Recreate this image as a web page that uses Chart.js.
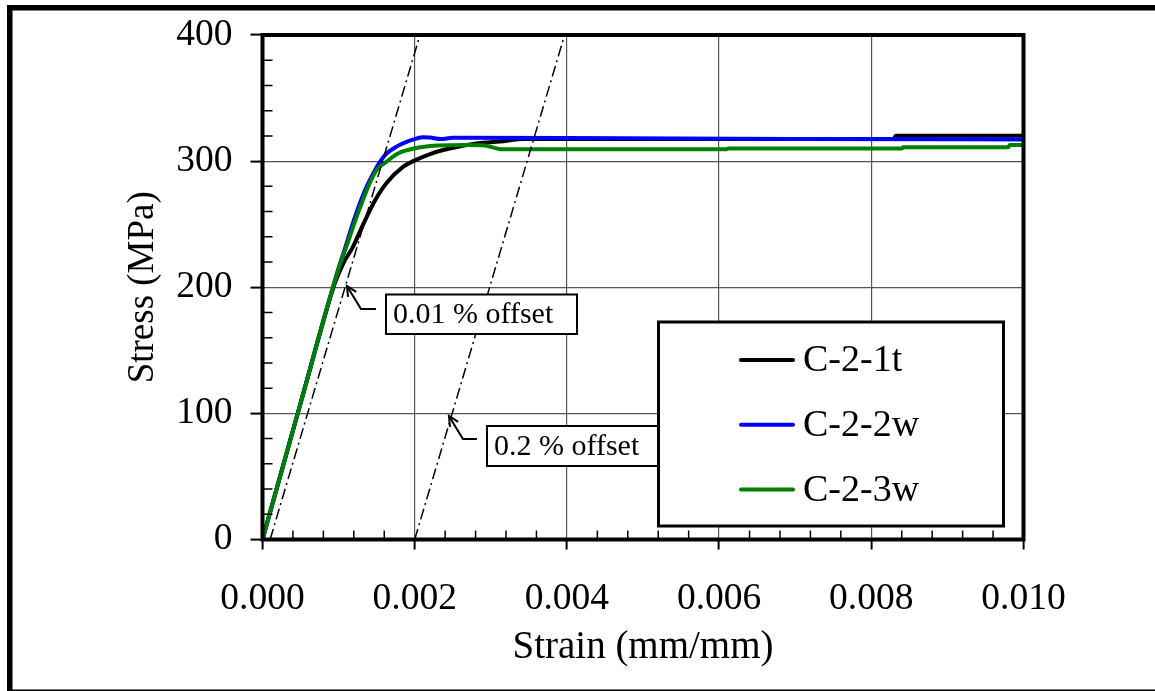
<!DOCTYPE html>
<html>
<head>
<meta charset="utf-8">
<script src="https://cdn.jsdelivr.net/npm/chart.js@4.4.0/dist/chart.umd.min.js"></script>
<style>
  html, body { margin: 0; padding: 0; background: #fff; }
  #wrap { width: 1155px; height: 691px; }
</style>
</head>
<body>
<div id="wrap"><canvas id="chart" width="1155" height="691"></canvas></div>
<script>
// series data (strain mm/mm, stress MPa)
const strain1t = [0, 0.0005, 0.00095, 0.00107, 0.00118, 0.00132, 0.00148, 0.00163, 0.00185, 0.00198, 0.00222, 0.00246, 0.00281, 0.00312, 0.00343, 0.0055, 0.0083, 0.00832, 0.0100];
const stress1t = [0, 108, 203, 220, 231, 249.5, 269, 282.7, 295.6, 300, 306, 310, 314, 315.5, 317.5, 317.5, 317.7, 320.2, 320.2];

const strain2w = [0, 0.0005, 0.001, 0.00108, 0.0012, 0.00128, 0.00137, 0.00148, 0.00155, 0.00163, 0.00176, 0.0019, 0.00203, 0.0021, 0.0022, 0.00234, 0.0025, 0.004, 0.007, 0.0100];
const stress2w = [0, 108, 215, 230, 253, 266.6, 280, 293, 300, 306, 311.5, 315.5, 318, 319, 318.8, 317.5, 318.5, 318.3, 317.5, 317.2];

const strain3w = [0, 0.0005, 0.001, 0.00109, 0.00122, 0.0013, 0.00139, 0.0015, 0.00164, 0.00178, 0.00199, 0.0023, 0.00269, 0.0029, 0.00305, 0.00313, 0.0061, 0.00612, 0.0084, 0.00842, 0.0098, 0.00982, 0.0100];
const stress3w = [0, 108, 215, 230, 253, 266, 280, 293, 300, 306, 310, 312.3, 312.8, 312.5, 310.5, 309.4, 309.4, 310, 310, 311, 311, 312.8, 312.8];

// offset lines
const offset001Strain = [0.0001, 0.00207];
const offset001Stress = [0, 400];
const offset02Strain = [0.002, 0.00397];
const offset02Stress = [0, 400];

const seriesNames = ['C-2-1t', 'C-2-2w', 'C-2-3w'];
const seriesColors = ['#000000', '#0000ff', '#008000'];

const xTickValues = [0, 0.002, 0.004, 0.006, 0.008, 0.010];
const xTickLabels = ['0.000', '0.002', '0.004', '0.006', '0.008', '0.010'];
const yTickValues = [0, 100, 200, 300, 400];
const yTickLabels = ['0', '100', '200', '300', '400'];
const xMinorStep = 0.0004;
const yMinorStep = 20;

const noteLabels = ['0.01 % offset', '0.2 % offset'];
const noteTipStrain = [0.00111, 0.00245];
const noteTipStress = [201, 98];

const FONT = "'Liberation Serif', 'Times New Roman', serif";

const toPoints = (xs, ys) => xs.map((x, i) => ({x: x, y: ys[i]}));

const curve = (i, xs, ys, order) => ({
    label: seriesNames[i],
    data: toPoints(xs, ys),
    borderColor: seriesColors[i],
    borderWidth: 4,
    pointRadius: 0,
    showLine: true,
    cubicInterpolationMode: 'monotone',
    order: order
});

const offsetLine = (xs, ys) => ({
    label: 'offset',
    data: toPoints(xs, ys),
    borderColor: '#000',
    borderWidth: 1.5,
    borderDash: [11, 4, 2, 4],
    pointRadius: 0,
    showLine: true,
    order: 0
});

const decorations = {
    id: 'decorations',
    beforeDraw(chart){
        const ctx = chart.ctx;
        ctx.save();
        ctx.fillStyle = '#fff';
        ctx.fillRect(0, 0, chart.width, chart.height);
        // outer frame
        ctx.fillStyle = '#000';
        ctx.fillRect(7, 5, chart.width - 7, 5.5);
        ctx.fillRect(7, 5, 5.5, 686);
        ctx.fillRect(7, 689.5, chart.width - 7, 1.5);
        ctx.restore();
    },
    afterDatasetsDraw(chart){
        const ctx = chart.ctx;
        const a = chart.chartArea;
        const xs = chart.scales.x, ys = chart.scales.y;
        ctx.save();
        ctx.strokeStyle = '#000';
        ctx.lineWidth = 1.5;
        ctx.beginPath();
        for (let v = yMinorStep; v < 400; v += yMinorStep){
            if (Math.abs(v % 100) < 1e-6) continue;
            const py = ys.getPixelForValue(v);
            ctx.moveTo(a.left, py); ctx.lineTo(a.left + 10, py);
        }
        for (let k = 1; k * xMinorStep < 0.01 - 1e-9; k++){
            if (k % 5 === 0) continue;
            const px = xs.getPixelForValue(k * xMinorStep);
            ctx.moveTo(px, a.bottom); ctx.lineTo(px, a.bottom - 9);
        }
        ctx.stroke();
        // plot frame
        ctx.lineWidth = 4;
        ctx.strokeRect(a.left, a.top, a.right - a.left, a.bottom - a.top);
        ctx.restore();
    },
    afterDraw(chart){
        const ctx = chart.ctx;
        const xs = chart.scales.x, ys = chart.scales.y;
        ctx.save();

        // notes with arrows
        const boxes = [
            {x: 386, y: 294.5, w: 191, h: 39.5},
            {x: 487, y: 426, w: 173, h: 40}
        ];
        ctx.font = '30px ' + FONT;
        ctx.textBaseline = 'middle';
        noteLabels.forEach((txt, i) => {
            const b = boxes[i];
            ctx.fillStyle = '#fff';
            ctx.fillRect(b.x, b.y, b.w, b.h);
            ctx.strokeStyle = '#000';
            ctx.lineWidth = 2;
            ctx.strokeRect(b.x, b.y, b.w, b.h);
            ctx.fillStyle = '#000';
            ctx.fillText(txt, b.x + 7, b.y + b.h / 2 + 1);

            const tx = xs.getPixelForValue(noteTipStrain[i]);
            const ty = ys.getPixelForValue(noteTipStress[i]);
            const ex = tx + 14, ey = ty + 23;
            ctx.lineWidth = 2;
            ctx.beginPath();
            ctx.moveTo(b.x - 10, ey);
            ctx.lineTo(ex, ey);
            ctx.lineTo(tx, ty);
            ctx.stroke();
            const ang = Math.atan2(ty - ey, tx - ex);
            ctx.beginPath();
            ctx.moveTo(tx - 11 * Math.cos(ang - 0.45), ty - 11 * Math.sin(ang - 0.45));
            ctx.lineTo(tx, ty);
            ctx.lineTo(tx - 11 * Math.cos(ang + 0.45), ty - 11 * Math.sin(ang + 0.45));
            ctx.stroke();
        });

        // legend
        const L = {x: 658.5, y: 322, w: 345, h: 204};
        ctx.fillStyle = '#fff';
        ctx.fillRect(L.x, L.y, L.w, L.h);
        ctx.strokeStyle = '#000';
        ctx.lineWidth = 3;
        ctx.strokeRect(L.x, L.y, L.w, L.h);
        ctx.font = '38px ' + FONT;
        ctx.textBaseline = 'middle';
        seriesNames.forEach((name, i) => {
            const cy = 360 + i * 64.8;
            ctx.strokeStyle = seriesColors[i];
            ctx.lineWidth = 4;
            ctx.lineCap = 'round';
            ctx.beginPath();
            ctx.moveTo(741, cy); ctx.lineTo(793, cy);
            ctx.stroke();
            ctx.fillStyle = '#000';
            ctx.fillText(name, 803, cy + 1);
        });
        ctx.restore();
    }
};

new Chart(document.getElementById('chart'), {
    type: 'scatter',
    data: {
        datasets: [
            curve(0, strain1t, stress1t, 3),
            curve(1, strain2w, stress2w, 2),
            curve(2, strain3w, stress3w, 1),
            offsetLine(offset001Strain, offset001Stress),
            offsetLine(offset02Strain, offset02Stress)
        ]
    },
    options: {
        responsive: false,
        animation: false,
        layout: { padding: { top: 35, right: 131.5, left: 0, bottom: 0 } },
        plugins: {
            legend: { display: false },
            tooltip: { enabled: false }
        },
        scales: {
            x: {
                type: 'linear',
                min: 0,
                max: 0.01,
                afterBuildTicks: s => { s.ticks = xTickValues.map(v => ({value: v})); },
                afterFit: s => { s.height = 151.5; s.paddingLeft = 0; s.paddingRight = 0; },
                border: { display: false },
                grid: { color: '#555', lineWidth: 1.2, tickColor: '#000', tickWidth: 2, tickLength: 10 },
                ticks: {
                    autoSkip: false,
                    maxRotation: 0,
                    padding: 27,
                    color: '#000',
                    font: { family: FONT, size: 37.5 },
                    callback: (v, i) => xTickLabels[i]
                },
                title: {
                    display: true,
                    text: 'Strain (mm/mm)',
                    color: '#000',
                    font: { family: FONT, size: 39 },
                    padding: { top: 0, bottom: 20 }
                }
            },
            y: {
                type: 'linear',
                min: 0,
                max: 400,
                afterBuildTicks: s => { s.ticks = yTickValues.map(v => ({value: v})); },
                afterFit: s => { s.width = 262.5; s.paddingTop = 0; s.paddingBottom = 0; },
                border: { display: false },
                grid: { color: '#555', lineWidth: 1.2, tickColor: '#000', tickWidth: 2, tickLength: 12 },
                ticks: {
                    padding: 18,
                    color: '#000',
                    font: { family: FONT, size: 37.5 },
                    callback: (v, i) => yTickLabels[i]
                },
                title: {
                    display: true,
                    text: 'Stress (MPa)',
                    color: '#000',
                    font: { family: FONT, size: 37 },
                    padding: { top: 121, bottom: 0 }
                }
            }
        }
    },
    plugins: [decorations]
});
</script>
</body>
</html>
